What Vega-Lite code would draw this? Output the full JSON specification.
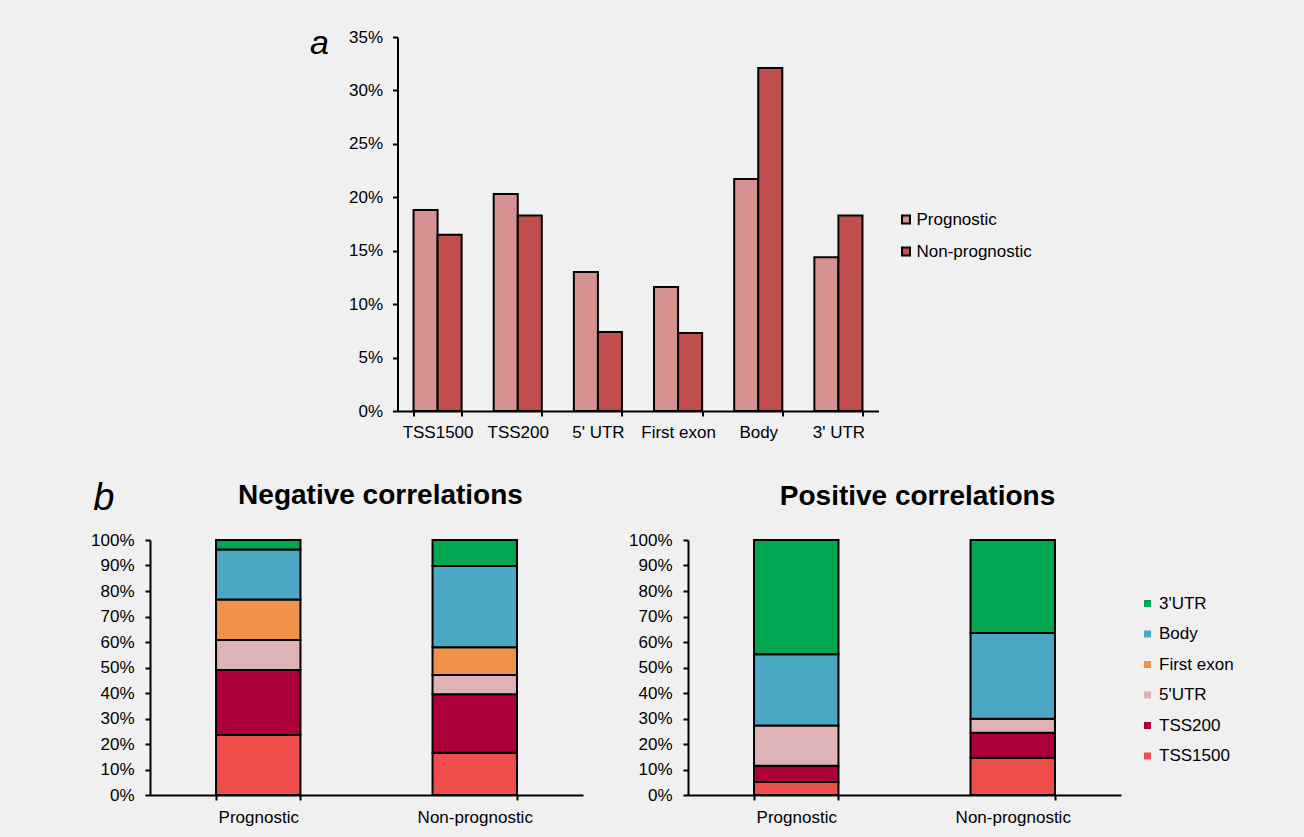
{
  "$schema": "https://vega.github.io/schema/vega-lite/v6.json",
  "background": "#f0f0f0",
  "padding": {"left": 90, "top": 26, "right": 24, "bottom": 12},
  "config": {
    "font": "Liberation Sans",
    "view": {"stroke": null},
    "axis": {"domainColor": "#000", "domainWidth": 2, "tickColor": "#000", "tickWidth": 2, "tickSize": 5, "labelColor": "#000", "grid": false, "labelFont": "Liberation Sans", "titleFont": "Liberation Sans", "titleColor": "#000"},
    "legend": {"labelFont": "Liberation Sans", "labelColor": "#000", "padding": 0},
    "title": {"font": "Liberation Sans", "color": "#000"}
  },
  "datasets": {
    "top": [
      {"region": "TSS1500", "group": "Prognostic", "pct": 18.8},
      {"region": "TSS1500", "group": "Non-prognostic", "pct": 16.5},
      {"region": "TSS200", "group": "Prognostic", "pct": 20.3},
      {"region": "TSS200", "group": "Non-prognostic", "pct": 18.3},
      {"region": "5' UTR", "group": "Prognostic", "pct": 13.0},
      {"region": "5' UTR", "group": "Non-prognostic", "pct": 7.4},
      {"region": "First exon", "group": "Prognostic", "pct": 11.6},
      {"region": "First exon", "group": "Non-prognostic", "pct": 7.3},
      {"region": "Body", "group": "Prognostic", "pct": 21.7},
      {"region": "Body", "group": "Non-prognostic", "pct": 32.1},
      {"region": "3' UTR", "group": "Prognostic", "pct": 14.4},
      {"region": "3' UTR", "group": "Non-prognostic", "pct": 18.3}
    ],
    "neg": [
      {"status": "Prognostic", "region": "TSS1500", "rank": 1, "pct": 23.5},
      {"status": "Prognostic", "region": "TSS200", "rank": 2, "pct": 25.5},
      {"status": "Prognostic", "region": "5'UTR", "rank": 3, "pct": 11.8},
      {"status": "Prognostic", "region": "First exon", "rank": 4, "pct": 15.9},
      {"status": "Prognostic", "region": "Body", "rank": 5, "pct": 19.6},
      {"status": "Prognostic", "region": "3'UTR", "rank": 6, "pct": 3.7},
      {"status": "Non-prognostic", "region": "TSS1500", "rank": 1, "pct": 16.6},
      {"status": "Non-prognostic", "region": "TSS200", "rank": 2, "pct": 22.9},
      {"status": "Non-prognostic", "region": "5'UTR", "rank": 3, "pct": 7.6},
      {"status": "Non-prognostic", "region": "First exon", "rank": 4, "pct": 10.8},
      {"status": "Non-prognostic", "region": "Body", "rank": 5, "pct": 31.9},
      {"status": "Non-prognostic", "region": "3'UTR", "rank": 6, "pct": 10.2}
    ],
    "pos": [
      {"status": "Prognostic", "region": "TSS1500", "rank": 1, "pct": 5.1},
      {"status": "Prognostic", "region": "TSS200", "rank": 2, "pct": 6.4},
      {"status": "Prognostic", "region": "5'UTR", "rank": 3, "pct": 15.8},
      {"status": "Prognostic", "region": "Body", "rank": 5, "pct": 27.9},
      {"status": "Prognostic", "region": "3'UTR", "rank": 6, "pct": 44.8},
      {"status": "Non-prognostic", "region": "TSS1500", "rank": 1, "pct": 14.6},
      {"status": "Non-prognostic", "region": "TSS200", "rank": 2, "pct": 9.8},
      {"status": "Non-prognostic", "region": "5'UTR", "rank": 3, "pct": 5.5},
      {"status": "Non-prognostic", "region": "Body", "rank": 5, "pct": 33.6},
      {"status": "Non-prognostic", "region": "3'UTR", "rank": 6, "pct": 36.5}
    ]
  },
  "center": true,
  "spacing": 39,
  "resolve": {"scale": {"color": "independent"}, "legend": {"color": "independent"}},
  "vconcat": [
    {
      "width": 481,
      "height": 374,
      "data": {"name": "top"},
      "mark": {"type": "bar", "stroke": "#000", "strokeWidth": 2},
      "encoding": {
        "x": {"field": "region", "type": "nominal", "sort": null,
          "scale": {"paddingInner": 0.4, "paddingOuter": 0.2},
          "axis": {"title": null, "labelAngle": 0, "labelFontSize": 17, "tickBand": "extent", "labelPadding": 8}},
        "xOffset": {"field": "group", "type": "nominal", "sort": ["Prognostic", "Non-prognostic"], "scale": {"paddingInner": 0, "paddingOuter": 0}},
        "y": {"field": "pct", "type": "quantitative", "scale": {"domain": [0, 35]},
          "axis": {"values": [0, 5, 10, 15, 20, 25, 30, 35], "labelExpr": "datum.value + '%'", "labelFontSize": 17, "labelPadding": 10,
            "title": "a", "titleAngle": 0, "titleAlign": "right", "titleBaseline": "alphabetic", "titleX": -69, "titleY": 16, "titleFontSize": 34, "titleFontStyle": "italic", "titleFontWeight": "normal"}},
        "color": {"field": "group", "type": "nominal",
          "scale": {"domain": ["Prognostic", "Non-prognostic"], "range": ["#d69191", "#c04e4c"]},
          "legend": {"title": null, "orient": "none", "legendX": 500, "legendY": 174, "symbolType": "square", "symbolSize": 64, "symbolStrokeColor": "#000", "symbolStrokeWidth": 2, "labelFontSize": 17, "rowPadding": 14, "labelOffset": 2}}
      }
    },
    {
      "hconcat": [
        {
          "width": 433,
          "height": 255,
          "title": {"text": "Negative correlations", "fontSize": 28, "fontWeight": "bold", "dx": 14, "baseline": "alphabetic", "offset": -53, "frame": "group"},
          "data": {"name": "neg"},
          "mark": {"type": "bar", "stroke": "#000", "strokeWidth": 2},
          "encoding": {
            "x": {"field": "status", "type": "nominal", "sort": ["Prognostic", "Non-prognostic"],
              "scale": {"paddingInner": 0.61, "paddingOuter": 0.305},
              "axis": {"title": null, "labelAngle": 0, "labelFontSize": 17, "tickBand": "extent", "labelPadding": 9}},
            "y": {"field": "pct", "type": "quantitative", "stack": "zero", "scale": {"domain": [0, 100]},
              "axis": {"values": [0, 10, 20, 30, 40, 50, 60, 70, 80, 90, 100], "labelExpr": "datum.value + '%'", "labelFontSize": 17, "labelPadding": 11,
                "title": "b", "titleAngle": 0, "titleAlign": "right", "titleBaseline": "alphabetic", "titleX": -36, "titleY": -31, "titleFontSize": 38, "titleFontStyle": "italic", "titleFontWeight": "normal"}},
            "color": {"field": "region", "type": "nominal",
              "scale": {"domain": ["3'UTR", "Body", "First exon", "5'UTR", "TSS200", "TSS1500"], "range": ["#00a651", "#4aa8c4", "#f0924a", "#dfb3b6", "#ad003a", "#ef4d4b"]},
              "legend": {"title": null, "orient": "none", "legendX": 943, "legendY": 9, "padding": 46, "symbolType": "square", "symbolSize": 49, "symbolStrokeWidth": 0, "labelFontSize": 17, "rowPadding": 12.5, "labelOffset": 3}},
            "order": {"field": "rank", "type": "quantitative"}
          }
        },
        {
          "width": 433,
          "height": 255,
          "title": {"text": "Positive correlations", "fontSize": 28, "fontWeight": "bold", "dx": 13, "baseline": "alphabetic", "offset": -2, "frame": "group"},
          "data": {"name": "pos"},
          "mark": {"type": "bar", "stroke": "#000", "strokeWidth": 2},
          "encoding": {
            "x": {"field": "status", "type": "nominal", "sort": ["Prognostic", "Non-prognostic"],
              "scale": {"paddingInner": 0.61, "paddingOuter": 0.305},
              "axis": {"title": null, "labelAngle": 0, "labelFontSize": 17, "tickBand": "extent", "labelPadding": 9}},
            "y": {"field": "pct", "type": "quantitative", "stack": "zero", "scale": {"domain": [0, 100]},
              "axis": {"values": [0, 10, 20, 30, 40, 50, 60, 70, 80, 90, 100], "labelExpr": "datum.value + '%'", "labelFontSize": 17, "labelPadding": 11, "title": null}},
            "color": {"field": "region", "type": "nominal",
              "scale": {"domain": ["3'UTR", "Body", "First exon", "5'UTR", "TSS200", "TSS1500"], "range": ["#00a651", "#4aa8c4", "#f0924a", "#dfb3b6", "#ad003a", "#ef4d4b"]},
              "legend": {"title": null, "orient": "none", "legendX": 943, "legendY": 9, "padding": 46, "symbolType": "square", "symbolSize": 49, "symbolStrokeWidth": 0, "labelFontSize": 17, "rowPadding": 12.5, "labelOffset": 3}},
            "order": {"field": "rank", "type": "quantitative"}
          }
        }
      ],
      "spacing": 45,
      "resolve": {"scale": {"color": "shared"}, "legend": {"color": "shared"}}
    }
  ]
}
